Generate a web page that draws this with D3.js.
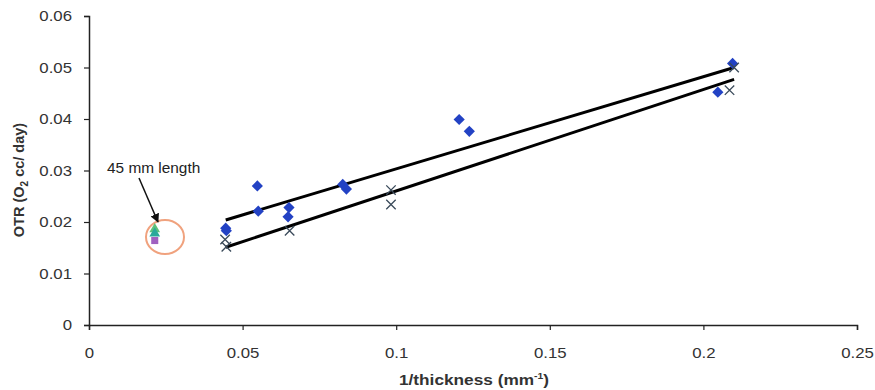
<!DOCTYPE html>
<html><head><meta charset="utf-8">
<script src="https://cdn.jsdelivr.net/npm/d3@7"></script>
<style>body{margin:0;background:#fff}svg{display:block}text{font-family:"Liberation Sans",Arial,sans-serif}</style>
</head><body><svg id="c" width="875" height="390"></svg>
<script>
// Series A (blue diamonds)
const diamondX = [0.0445, 0.0447, 0.0548, 0.0551, 0.0651, 0.0648, 0.0826, 0.0838, 0.1205, 0.1238, 0.2047, 0.2095];
const diamondY = [0.0188, 0.0183, 0.0270, 0.0221, 0.0228, 0.0210, 0.0273, 0.0264, 0.0399, 0.0376, 0.0452, 0.0508];
// Series B (x marks)
const crossX = [0.0443, 0.0447, 0.0653, 0.0983, 0.0983, 0.2085, 0.2100];
const crossY = [0.0166, 0.0152, 0.0183, 0.0262, 0.0234, 0.0456, 0.0500];
// 45 mm length samples
const triX = [0.0214, 0.0214];
const triY = [0.0186, 0.0178];
const sqX = [0.0214];
const sqY = [0.0164];
// trend lines (fitted endpoints)
const trendAX = [0.0445, 0.2100];
const trendAY = [0.0204, 0.0500];
const trendBX = [0.0445, 0.2100];
const trendBY = [0.0151, 0.0477];
// ticks
const xTicks = [0, 0.05, 0.1, 0.15, 0.2, 0.25];
const yTicks = [0, 0.01, 0.02, 0.03, 0.04, 0.05, 0.06];

const svg = d3.select("#c");
const x = d3.scaleLinear().domain([0, 0.25]).range([89, 857]);
const y = d3.scaleLinear().domain([0, 0.06]).range([325, 16]);
const fmt = d => d === 0 ? "0" : String(+d.toFixed(2));

const xAxis = d3.axisBottom(x).tickValues(xTicks).tickSize(5).tickPadding(17).tickFormat(fmt);
const yAxis = d3.axisLeft(y).tickValues(yTicks).tickSize(5).tickPadding(12).tickFormat(fmt);

const gx = svg.append("g").attr("transform", "translate(0,325)").call(xAxis);
const gy = svg.append("g").attr("transform", "translate(89,0)").call(yAxis);
[gx, gy].forEach(g => {
  g.select(".domain").attr("stroke", "#222").attr("stroke-width", 1.5);
  g.selectAll(".tick line").attr("stroke", "#222").attr("stroke-width", 1.2);
  g.selectAll(".tick text").attr("fill", "#333").style("font-size", "15px")
    .style("font-family", "'Liberation Sans',Arial,sans-serif");
});
gx.selectAll(".tick text").attr("transform", "scale(1.12,1)");
gy.selectAll(".tick text").attr("transform", d => `translate(-17,${y(d)}) scale(1.12,1) translate(17,${-y(d)})`);

// axis titles
svg.append("text").attr("transform", "translate(474,385) scale(1.15,1)").attr("text-anchor", "middle")
  .style("font-size", "15px").style("font-weight", "bold").attr("fill", "#333")
  .html('1/thickness (mm<tspan dy="-6" font-size="9px">-1</tspan><tspan dy="6">)</tspan>');
svg.append("text").attr("transform", "translate(24,180) rotate(-90)").attr("text-anchor", "middle")
  .style("font-size", "14.5px").style("font-weight", "bold").attr("fill", "#333")
  .html('OTR (O<tspan dy="4" font-size="10px">2</tspan><tspan dy="-4"> cc/ day)</tspan>');

// trend lines
const line = d3.line().x(d => x(d[0])).y(d => y(d[1]));
[[trendAX, trendAY], [trendBX, trendBY]].forEach(([xs, ys]) => {
  svg.append("path").datum(xs.map((v, i) => [v, ys[i]])).attr("d", line)
    .attr("fill", "none").attr("stroke", "#000").attr("stroke-width", 3);
});

// diamonds
const diamond = d3.symbol().type(d3.symbolDiamond2).size(80);
svg.append("g").selectAll("path").data(diamondX.map((v, i) => [v, diamondY[i]])).join("path")
  .attr("d", diamond).attr("transform", d => `translate(${x(d[0])},${y(d[1])})`)
  .attr("fill", "#2342c4");
// crosses
const cross = d3.symbol().type(d3.symbolX).size(60);
svg.append("g").selectAll("path").data(crossX.map((v, i) => [v, crossY[i]])).join("path")
  .attr("d", cross).attr("transform", d => `translate(${x(d[0])},${y(d[1])})`)
  .attr("fill", "none").attr("stroke", "#3a4a5a").attr("stroke-width", 1.3);

// highlighted circle
svg.append("ellipse").attr("cx", 165).attr("cy", 237).attr("rx", 19).attr("ry", 17)
  .attr("fill", "none").attr("stroke", "#f0a27e").attr("stroke-width", 2);
// squares and triangles
const sq = d3.symbol().type(d3.symbolSquare).size(50);
svg.append("g").selectAll("path").data(sqX.map((v, i) => [v, sqY[i]])).join("path")
  .attr("d", sq).attr("transform", d => `translate(${x(d[0])},${y(d[1])})`).attr("fill", "#a060c0");
const tri = d3.symbol().type(d3.symbolTriangle).size(50);
const triColors = ["#5ec07a", "#2aa89a"];
svg.append("g").selectAll("path").data(triX.map((v, i) => [v, triY[i], i])).join("path")
  .attr("d", tri).attr("transform", d => `translate(${x(d[0])},${y(d[1])})`).attr("fill", d => triColors[d[2]]);

// annotation
svg.append("defs").append("marker").attr("id", "ah").attr("viewBox", "0 0 10 10")
  .attr("refX", 9).attr("refY", 5).attr("markerWidth", 9).attr("markerHeight", 9).attr("orient", "auto")
  .attr("markerUnits", "userSpaceOnUse")
  .append("path").attr("d", "M0,0L10,5L0,10Z").attr("fill", "#111");
svg.append("line").attr("x1", 139).attr("y1", 178).attr("x2", 158).attr("y2", 222)
  .attr("stroke", "#111").attr("stroke-width", 1.5).attr("marker-end", "url(#ah)");
svg.append("text").attr("transform", "translate(107,173) scale(1.1,1)").style("font-size", "14px").attr("fill", "#222")
  .text("45 mm length");
</script></body></html>
